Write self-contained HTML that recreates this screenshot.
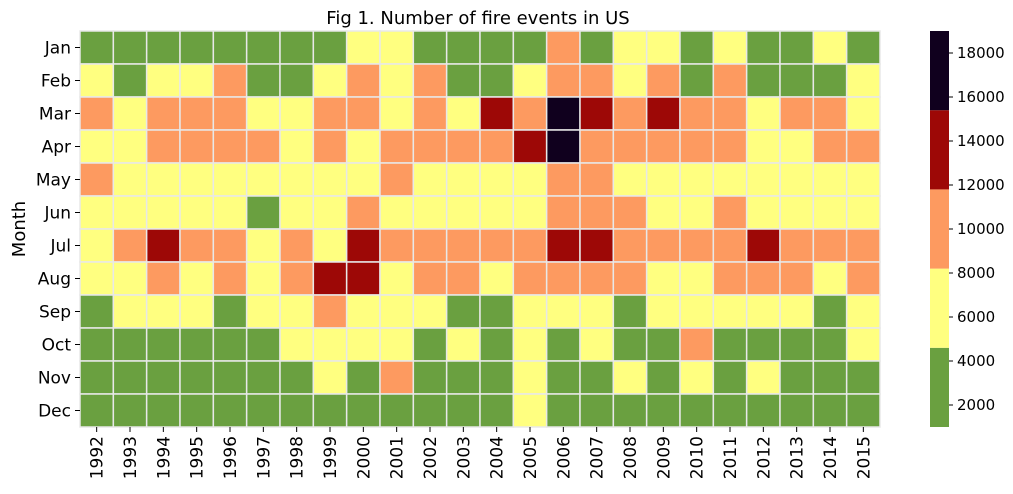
<!DOCTYPE html>
<html><head><meta charset="utf-8"><style>
body{margin:0;background:#fff;width:1013px;height:490px;overflow:hidden;font-family:"DejaVu Sans","Liberation Sans",sans-serif}
svg text{font-family:"DejaVu Sans","Liberation Sans",sans-serif}
</style></head><body>
<svg id="chart" width="1013" height="490" xmlns="http://www.w3.org/2000/svg"></svg>
<script>
const years=["1992","1993","1994","1995","1996","1997","1998","1999","2000","2001","2002","2003","2004","2005","2006","2007","2008","2009","2010","2011","2012","2013","2014","2015"];
const months=["Jan","Feb","Mar","Apr","May","Jun","Jul","Aug","Sep","Oct","Nov","Dec"];
const jan=[3000,3000,3000,3000,3000,3000,3000,3000,6500,6500,3000,3000,3000,3000,10000,3000,6500,6500,3000,6500,3000,3000,6500,3000];
const feb=[6500,3000,6500,6500,10000,3000,3000,6500,10000,6500,10000,3000,3000,6500,10000,10000,6500,10000,3000,10000,3000,3000,3000,6500];
const mar=[10000,6500,10000,10000,10000,6500,6500,10000,10000,6500,10000,6500,13500,10000,17500,13500,10000,13500,10000,10000,6500,10000,10000,6500];
const apr=[6500,6500,10000,10000,10000,10000,6500,10000,6500,10000,10000,10000,10000,13500,17500,10000,10000,10000,10000,10000,6500,6500,10000,10000];
const may=[10000,6500,6500,6500,6500,6500,6500,6500,6500,10000,6500,6500,6500,6500,10000,10000,6500,6500,6500,6500,6500,6500,6500,6500];
const jun=[6500,6500,6500,6500,6500,3000,6500,6500,10000,6500,6500,6500,6500,6500,10000,10000,10000,6500,6500,10000,6500,6500,6500,6500];
const jul=[6500,10000,13500,10000,10000,6500,10000,6500,13500,10000,10000,10000,10000,10000,13500,13500,10000,10000,10000,10000,13500,10000,10000,10000];
const aug=[6500,6500,10000,6500,10000,6500,10000,13500,13500,6500,10000,10000,6500,10000,10000,10000,10000,6500,6500,10000,10000,10000,6500,10000];
const sep=[3000,6500,6500,6500,3000,6500,6500,10000,6500,6500,6500,3000,3000,6500,6500,6500,3000,6500,6500,6500,6500,6500,3000,6500];
const oct=[3000,3000,3000,3000,3000,3000,6500,6500,6500,6500,3000,6500,3000,6500,3000,6500,3000,3000,10000,3000,3000,3000,3000,6500];
const nov=[3000,3000,3000,3000,3000,3000,3000,6500,3000,10000,3000,3000,3000,6500,3000,3000,6500,3000,6500,3000,6500,3000,3000,3000];
const dec=[3000,3000,3000,3000,3000,3000,3000,3000,3000,3000,3000,3000,3000,6500,3000,3000,3000,3000,3000,3000,3000,3000,3000,3000];
const grid=[jan,feb,mar,apr,may,jun,jul,aug,sep,oct,nov,dec];
const cbTicks=[2000,4000,6000,8000,10000,12000,14000,16000,18000];
const vmin=1000,vmax=19000;
const colors=["#6aa040","#ffff80","#fd9a60","#9d0806","#10001e"];

const svg=document.getElementById('chart');
const NS="http://www.w3.org/2000/svg";
function mk(t,a,parent){const e=document.createElementNS(NS,t);for(const k in a)e.setAttribute(k,a[k]);(parent||svg).appendChild(e);return e;}
const X0=80,X1=880,Y0=31,Y1=427;
const cw=(X1-X0)/years.length, ch=(Y1-Y0)/months.length;
const xPos=i=>X0+i*cw, yPos=j=>Y0+j*ch;
function colorOf(v){let b=Math.floor((v-vmin)/((vmax-vmin)/colors.length));b=Math.max(0,Math.min(colors.length-1,b));return colors[b];}

const t=mk('text',{x:478,y:24,'text-anchor':'middle','font-size':18,fill:'#000'});
t.textContent="Fig 1. Number of fire events in US";



grid.forEach((row,j)=>row.forEach((v,i)=>{
  const r=mk('rect',{x:xPos(i),y:yPos(j),width:cw,height:ch,fill:colorOf(v),stroke:'#e8e8e8','stroke-width':1.5});
  
  
}));

months.forEach((m,j)=>{
  const y=yPos(j)+ch/2;
  mk('line',{x1:X0-5,x2:X0,y1:y,y2:y,stroke:'#000'});
  const e=mk('text',{x:X0-9,y:y+6,'text-anchor':'end','font-size':17});
  e.textContent=m;
  
  
});
years.forEach((yr,i)=>{
  const x=xPos(i)+cw/2;
  mk('line',{x1:x,x2:x,y1:Y1,y2:Y1+5,stroke:'#000'});
  const e=mk('text',{x:0,y:0,'text-anchor':'end','font-size':17,transform:`translate(${x+6},${Y1+9}) rotate(-90)`});
  e.textContent=yr;
  
  
});
const yl=mk('text',{x:0,y:0,'text-anchor':'middle','font-size':18,transform:`translate(25,${(Y0+Y1)/2}) rotate(-90)`});
yl.textContent="Month";



// colorbar
const CX=930,CW=19;
const cbY=v=>Y1-(v-vmin)/(vmax-vmin)*(Y1-Y0);
colors.forEach((c,k)=>{
  const lo=vmin+k*(vmax-vmin)/colors.length, hi=vmin+(k+1)*(vmax-vmin)/colors.length;
  const r=mk('rect',{x:CX,y:cbY(hi),width:CW,height:cbY(lo)-cbY(hi),fill:c});
  
  
});
cbTicks.forEach(v=>{
  const y=cbY(v);
  mk('line',{x1:CX+CW,x2:CX+CW+4,y1:y,y2:y,stroke:'#000'});
  const e=mk('text',{x:CX+CW+8,y:y+5,'font-size':15});
  e.textContent=v;
  
  
});
</script>
</body></html>
